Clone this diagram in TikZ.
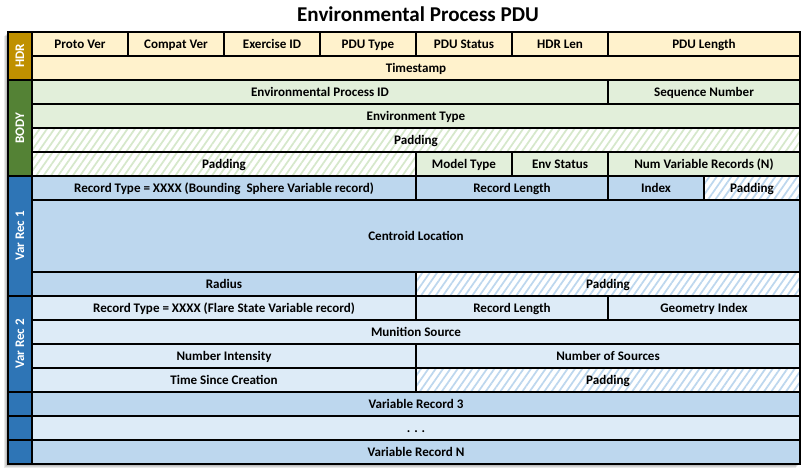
\documentclass[tikz,border=0pt]{standalone}
\usepackage{fontspec}
\setmainfont{Carlito}
\usetikzlibrary{patterns.meta}
\definecolor{hdrside}{HTML}{BF9000}
\definecolor{hdrfill}{HTML}{FFF2CC}
\definecolor{bodyside}{HTML}{548235}
\definecolor{bodyfill}{HTML}{E2EFDA}
\definecolor{varside}{HTML}{2E75B6}
\definecolor{vfillA}{HTML}{BDD7EE}
\definecolor{vfillB}{HTML}{DDEBF7}
\definecolor{ghatch}{HTML}{D6E8CB}
\definecolor{bhatch}{HTML}{BDD7EE}
\newcommand\cell[7]{\node[#6, minimum width={(#4-#2)*0.75pt}, minimum height={(#5-#3)*0.75pt}] (#1) at ({(#2+#4)/2},{(#3+#5)/2}) {#7};}
\newcommand\sidecell[7]{\node[#6, minimum height={(#4-#2)*0.75pt}, minimum width={(#5-#3)*0.75pt}] (#1) at ({(#2+#4)/2},{(#3+#5)/2}) {#7};}
\begin{document}
\begin{tikzpicture}[x=0.75pt,y=-0.75pt,
  box/.style={draw=black, line width=0.9pt, inner sep=0pt, outer sep=0pt,
    text height=6.4pt, text depth=0.2pt,
    font=\bfseries\fontsize{9.8}{11}\selectfont},
  hdr/.style={box, fill=hdrfill},
  bod/.style={box, fill=bodyfill},
  vA/.style={box, fill=vfillA},
  vB/.style={box, fill=vfillB},
  ghat/.style={box, preaction={fill=white}, pattern={Lines[angle=55,distance=4.5pt,line width=1.3pt]}, pattern color=ghatch},
  bhat/.style={box, preaction={fill=white}, pattern={Lines[angle=55,distance=4.5pt,line width=1.3pt]}, pattern color=bhatch},
  side/.style={box, rotate=90, text=white},
  titlestyle/.style={font=\bfseries\fontsize{15.8}{18}\selectfont, inner sep=0pt}]
\useasboundingbox (0,0) rectangle (805,468);
\fill[white] (0,0) rectangle (805,468);
% shadow
\foreach \i in {1,2,3,4}{\fill[black, opacity=0.09] (8-\i,32+\i) rectangle (800-\i,464+\i);}
\node[titlestyle] (title) at (418,14) {Environmental Process PDU};
% side bars
\sidecell{shdr}{8}{32}{32}{80}{side, fill=hdrside}{HDR}
\sidecell{sbody}{8}{80}{32}{176}{side, fill=bodyside}{BODY}
\sidecell{svr1}{8}{176}{32}{296}{side, fill=varside}{Var Rec 1}
\sidecell{svr2}{8}{296}{32}{392}{side, fill=varside}{Var Rec 2}
\sidecell{svr3}{8}{392}{32}{416}{side, fill=varside}{}
\sidecell{svrd}{8}{416}{32}{440}{side, fill=varside}{}
\sidecell{svrn}{8}{440}{32}{464}{side, fill=varside}{}
% header
\cell{h1}{32}{32}{128}{56}{hdr}{Proto Ver}
\cell{h2}{128}{32}{224}{56}{hdr}{Compat Ver}
\cell{h3}{224}{32}{320}{56}{hdr}{Exercise ID}
\cell{h4}{320}{32}{416}{56}{hdr}{PDU Type}
\cell{h5}{416}{32}{512}{56}{hdr}{PDU Status}
\cell{h6}{512}{32}{608}{56}{hdr}{HDR Len}
\cell{h7}{608}{32}{800}{56}{hdr}{PDU Length}
\cell{h8}{32}{56}{800}{80}{hdr}{Timestamp}
% body
\cell{b1}{32}{80}{608}{104}{bod}{Environmental Process ID}
\cell{b2}{608}{80}{800}{104}{bod}{Sequence Number}
\cell{b3}{32}{104}{800}{128}{bod}{Environment Type}
\cell{b4}{32}{128}{800}{152}{ghat}{Padding}
\cell{b5}{32}{152}{416}{176}{ghat}{Padding}
\cell{b6}{416}{152}{512}{176}{bod}{Model Type}
\cell{b7}{512}{152}{608}{176}{bod}{Env Status}
\cell{b8}{608}{152}{800}{176}{bod}{Num Variable Records (N)}
% var rec 1
\cell{r1}{32}{176}{416}{200}{vA}{Record Type = XXXX (Bounding~ Sphere Variable record)}
\cell{r2}{416}{176}{608}{200}{vA}{Record Length}
\cell{r3}{608}{176}{704}{200}{vA}{Index}
\cell{r4}{704}{176}{800}{200}{bhat}{Padding}
\cell{r5}{32}{200}{800}{272}{vA}{Centroid Location}
\cell{r6}{32}{272}{416}{296}{vA}{Radius}
\cell{r7}{416}{272}{800}{296}{bhat}{Padding}
% var rec 2
\cell{q1}{32}{296}{416}{320}{vB}{Record Type = XXXX (Flare State Variable record)}
\cell{q2}{416}{296}{608}{320}{vB}{Record Length}
\cell{q3}{608}{296}{800}{320}{vB}{Geometry Index}
\cell{q4}{32}{320}{800}{344}{vB}{Munition Source}
\cell{q5}{32}{344}{416}{368}{vB}{Number Intensity}
\cell{q6}{416}{344}{800}{368}{vB}{Number of Sources}
\cell{q7}{32}{368}{416}{392}{vB}{Time Since Creation}
\cell{q8}{416}{368}{800}{392}{bhat}{Padding}
% further records
\cell{v3}{32}{392}{800}{416}{vA}{Variable Record 3}
\cell{vd}{32}{416}{800}{440}{vB}{. . .}
\cell{vn}{32}{440}{800}{464}{vA}{Variable Record N}
\end{tikzpicture}
\end{document}
